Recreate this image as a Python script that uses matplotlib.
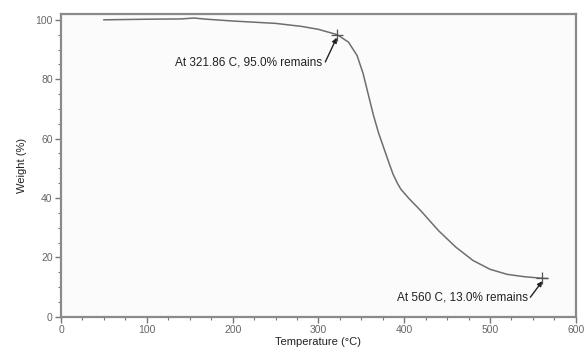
import matplotlib
matplotlib.use('Agg')
import matplotlib.pyplot as plt
from matplotlib.ticker import MultipleLocator

# values
temp = [50, 100, 140, 155, 170, 200, 250, 280, 300, 321.86, 335, 345, 352, 358, 364, 370,
        376, 382, 387, 392, 396, 405, 420, 440, 460, 480, 500, 520, 540, 560, 567]
weight = [100.0, 100.2, 100.3, 100.6, 100.2, 99.6, 98.8, 97.8, 96.8, 95.0, 92.5, 88.0, 82.0,
          75.0, 68.0, 62.0, 57.0, 52.0, 48.0, 45.0, 43.0, 40.0, 35.5, 29.0, 23.5, 19.0,
          16.0, 14.3, 13.5, 13.0, 12.9]

mark_t = [321.86, 560]
mark_w = [95.0, 13.0]
mark_txt = ['At 321.86 C, 95.0% remains', 'At 560 C, 13.0% remains']

plt.rcParams['font.family'] = ['Liberation Sans', 'DejaVu Sans']

fig = plt.figure(figsize=(5.84, 3.47), dpi=100)
ax = fig.add_axes([0.1045, 0.087, 0.8815, 0.873])
ax.set_facecolor('#fbfbfb')

ax.plot(temp, weight, color='#6e6e6e', linewidth=1.1)
ax.plot(mark_t, mark_w, '+', color='#555555', markersize=8, markeredgewidth=0.9)

# labels and short arrows pointing at the marked points
ax.text(304, 85.6, mark_txt[0], ha='right', va='center', fontsize=8.5, color='#222222')
ax.annotate('', xy=(mark_t[0] - 0.5, mark_w[0] - 1), xytext=(308, 85.8),
            arrowprops=dict(arrowstyle='-|>', color='#222222', lw=1.0,
                            mutation_scale=7, shrinkA=0, shrinkB=0))
ax.text(544, 6.4, mark_txt[1], ha='right', va='center', fontsize=8.5, color='#222222')
ax.annotate('', xy=(mark_t[1] + 1, mark_w[1] - 1), xytext=(547, 6.6),
            arrowprops=dict(arrowstyle='-|>', color='#222222', lw=1.0,
                            mutation_scale=7, shrinkA=0, shrinkB=0))

ax.set_xlim(0, 600)
ax.set_ylim(0, 102)
ax.xaxis.set_major_locator(MultipleLocator(100))
ax.xaxis.set_minor_locator(MultipleLocator(25))
ax.yaxis.set_major_locator(MultipleLocator(20))
ax.yaxis.set_minor_locator(MultipleLocator(5))

for s in ax.spines.values():
    s.set_color('#8a8a8a')
    s.set_linewidth(1.6)

ax.tick_params(which='major', length=4, width=1, color='#777777',
               labelsize=7.5, labelcolor='#666666', pad=2)
ax.tick_params(which='minor', length=2.5, width=0.8, color='#777777')
ax.tick_params(axis='x', which='both', top=False)
ax.tick_params(axis='y', which='both', right=False)

ax.set_xlabel('Temperature (°C)', fontsize=8, color='#222222', labelpad=1)
ax.set_ylabel('Weight (%)', fontsize=8, color='#222222', labelpad=6)

fig.savefig('out.png', dpi=100)
